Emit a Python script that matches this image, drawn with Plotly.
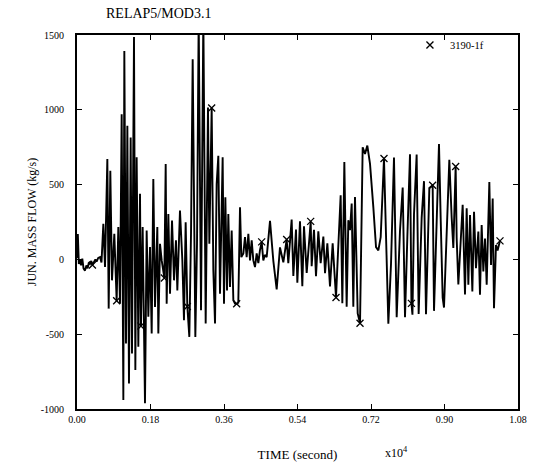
import numpy as np
import plotly.graph_objects as go

# Junction mass flow history (time in s, flow in kg/s)
time_s = [0, 20, 45, 73, 100, 130, 160, 196, 230, 260, 290, 318, 350, 378, 410, 450, 480, 520, 563, 600, 645,
          686, 743, 776, 816, 857, 914, 971, 1012, 1053, 1094, 1135, 1159, 1200, 1233, 1273, 1314, 1347, 1396, 1429,
          1461, 1502, 1543, 1567, 1608, 1665, 1706, 1747, 1788, 1829, 1869, 1910, 1967, 1992, 2033, 2074, 2139, 2172,
          2196, 2237, 2278, 2327, 2376, 2424, 2457, 2522, 2580, 2620, 2661, 2702, 2751, 2792, 2833, 2898, 2939, 2980,
          3037, 3094, 3151, 3208, 3241, 3298, 3339, 3380, 3420, 3461, 3502, 3567, 3600, 3633, 3674, 3706, 3747, 3788,
          3829, 3870, 3910, 3950, 3992, 4025, 4074, 4114, 4155, 4196, 4237, 4278, 4318, 4359, 4400, 4441, 4480, 4523,
          4563, 4600, 4645, 4727, 4808, 4890, 4971, 5053, 5135, 5175,
          5257, 5298, 5363, 5396, 5461, 5518, 5559, 5625, 5723, 5747, 5804, 5853, 5910, 5967, 6033, 6074, 6131, 6196,
          6261, 6343, 6380, 6416, 6457, 6498, 6547, 6604, 6645, 6686, 6727, 6767, 6808, 6874, 6931, 6996, 7053, 7110,
          7176, 7257, 7323, 7380, 7437, 7518, 7559, 7625, 7690, 7763, 7829, 7910, 7976, 8033, 8090, 8155, 8190, 8215,
          8253, 8318, 8367, 8441, 8498, 8547, 8629, 8710, 8743, 8808, 8865, 8906, 8955, 8988, 9053, 9118, 9176, 9216,
          9273, 9298, 9339, 9396, 9445, 9502, 9543, 9584, 9625, 9682, 9723, 9771, 9829, 9869, 9910, 9951, 9992, 10033,
          10098, 10139, 10180, 10212, 10261, 10300, 10359]

mass_flow = [10, 170, -30, -5, -40, 5, -60, -75, -40, -60, -20, -30, -10, -38, -20, 0, -15, 10, 15, -20, 238,
             -51, 671, -329, 593, -140, 171, -276, 216, -296, 971, -940, 1393, -562, 893, -829, 815, -629, 1486, -740,
             682, -584, 438, -445, 216, -962, 193, -384, 82, -495, 538, -318, 216, -495, 104, -7, -124, 638,
             -296, 304, -229, 260, -140, 127, -207, 327, -7, -407, 249, -315, -518, 171, 1338, -518, 104, 1620,
             -340, 1620, -429, 1015, 104, 1012, -73, -429, 504, 693, -229, 682, -296, 415, -207, 304, -184, 193,
             -273, -296, -297, -290, 349, 15, 40, 149, 15, 171, -7, 127, -7, -51, 40, -25, 60, 117,
             -7, 30, 15, 258, -10, -200, 80, -20, 133, -25,
             266, -111, 200, -156, 255, -179, 221, -90, 254, -46, 198, -113, 187, -25, 153, -92, 108, -181,
             107, -255, -26, 152, 429, -293, 651, -316, 262, 196, 373, -316, 417, -361, -427, 750, 705, 761,
             638, 349, 82, 60, 148, 675, 193, -430, -30, 681, -386, 192, 480, -387, 146, 702, -294, -370,
             302, 701, -365, 279, 523, -366, 478, 496, -344, 278, 771, 278, -256, -322, 232, 666, 277, 77,
             621, 143, -168, 165, 365, -235, 342, -169, 297, -214, 319, -59, 186, -236, 230, -81, 140, -170,
             518, -37, 407, -326, 96, 60, 124]

# Times at which the plot symbol is drawn on the curve
marker_times = [378, 971, 1567, 2139, 2702, 3298, 3910, 4523, 5135, 5723, 6343, 6931, 7518, 8190, 8710, 9273, 10359]

series_name = "3190-1f"
x_ticks = [0, 1800, 3600, 5400, 7200, 9000, 10800]
x_tick_text = ["0.00", "0.18", "0.36", "0.54", "0.72", "0.90", "1.08"]
y_ticks = [-1000, -500, 0, 500, 1000, 1500]
y_tick_text = ["-1000", "-500", "0", "500", "1000", "1500"]

t = np.array(time_s)
w = np.array(mass_flow)
sel = np.isin(t, marker_times)

serif = "Liberation Serif"

fig = go.Figure()
fig.add_trace(go.Scatter(x=t, y=w, mode="lines", line=dict(color="black", width=1.9),
                         showlegend=False, hoverinfo="skip"))
fig.add_trace(go.Scatter(x=t[sel], y=w[sel], mode="markers", name=series_name,
                         marker=dict(symbol="x-thin", size=7, line=dict(color="black", width=1.3)),
                         showlegend=True))

axis_common = dict(showline=True, linecolor="black", linewidth=1.9, mirror="ticks",
                   ticks="inside", ticklen=5, tickwidth=1, tickcolor="black",
                   showgrid=False, zeroline=False,
                   tickfont=dict(family=serif, size=10, color="black"))

fig.update_xaxes(range=[0, 10800], tickvals=x_ticks, ticktext=x_tick_text,
                 title=dict(text="TIME (second)", standoff=26,
                            font=dict(family=serif, size=13, color="black")),
                 **axis_common)
fig.update_yaxes(range=[-1000, 1500], tickvals=y_ticks, ticktext=y_tick_text,
                 ticklabelstandoff=9,
                 title=dict(text="JUN. MASS FLOW (kg/s)", standoff=2,
                            font=dict(family=serif, size=12, color="black")),
                 **axis_common)

fig.update_layout(
    width=535, height=468,
    margin=dict(l=77, r=17, t=35, b=59, autoexpand=False),
    plot_bgcolor="white", paper_bgcolor="white",
    legend=dict(x=0.755, y=1.012, xanchor="left", yanchor="top", bgcolor="rgba(0,0,0,0)",
                font=dict(family=serif, size=10.5, color="black"), itemwidth=30,
                tracegroupgap=0),
    annotations=[
        dict(text="RELAP5/MOD3.1", xref="paper", yref="paper", x=0.062, y=1.033,
             xanchor="left", yanchor="bottom", showarrow=False,
             font=dict(family=serif, size=14, color="black")),
        dict(text="x10<sup>4</sup>", xref="paper", yref="paper", x=0.695, y=-0.09,
             xanchor="left", yanchor="top", showarrow=False,
             font=dict(family=serif, size=12, color="black")),
    ],
)

fig.write_html("out.html")
